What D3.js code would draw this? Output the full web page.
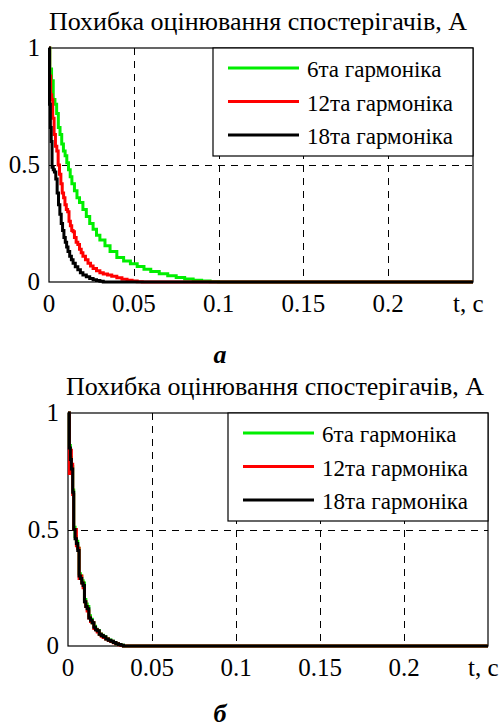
<!DOCTYPE html>
<head><meta charset="utf-8"></head>
<body style="margin:0">
<script src="https://cdn.jsdelivr.net/npm/d3@7"></script>
<script>

var width = 502, height = 727;
var serif = "'Liberation Serif'";

var titleText = "Похибка оцінювання спостерігачів, А";
var seriesNames = ["6та гармоніка", "12та гармоніка", "18та гармоніка"];
var seriesColors = ["#00ee00", "#ff0000", "#000000"];
var xTicks = [0, 0.05, 0.1, 0.15, 0.2];
var xTickLabels = ["0", "0.05", "0.1", "0.15", "0.2"];
var yTicks = [0, 0.5, 1];
var yTickLabels = ["0", "0.5", "1"];
var xUnit = "t, c";

// panel a : [t, value]
var greenA = [[0,1],[0.0005,0.91],[0.0015,0.86],[0.0025,0.78],[0.0035,0.76],[0.0045,0.72],[0.0055,0.66],
  [0.0065,0.63],[0.0075,0.59],[0.0085,0.56],[0.0095,0.54],[0.0105,0.51],[0.0115,0.48],[0.0125,0.45],
  [0.0135,0.42],[0.015,0.39],[0.0165,0.36],[0.018,0.34],[0.02,0.31],[0.022,0.28],[0.024,0.25],
  [0.026,0.225],[0.028,0.2],[0.03,0.18],[0.033,0.155],[0.036,0.13],[0.04,0.105],[0.044,0.09],
  [0.048,0.078],[0.052,0.066],[0.056,0.055],[0.06,0.045],[0.065,0.035],[0.07,0.027],[0.075,0.019],
  [0.08,0.013],[0.085,0.008],[0.09,0.004],[0.095,0.001],[0.1,0],[0.25,0]];
var redA = [[0,1],[0.0004,0.88],[0.001,0.8],[0.0016,0.78],[0.0022,0.7],[0.003,0.63],[0.0038,0.58],
  [0.0046,0.56],[0.0054,0.5],[0.0062,0.46],[0.007,0.42],[0.0078,0.38],[0.0086,0.36],[0.0094,0.33],
  [0.0102,0.31],[0.011,0.3],[0.0118,0.26],[0.0126,0.24],[0.0134,0.22],[0.0142,0.215],[0.015,0.19],
  [0.016,0.17],[0.017,0.16],[0.018,0.14],[0.019,0.125],[0.02,0.11],[0.0215,0.095],[0.023,0.08],
  [0.0245,0.068],[0.026,0.058],[0.028,0.048],[0.03,0.04],[0.032,0.034],[0.0345,0.03],[0.037,0.025],
  [0.04,0.018],[0.043,0.012],[0.046,0.007],[0.049,0.004],[0.052,0.001],[0.055,0],[0.25,0]];
var blackA = [[0,1],[0.0003,0.76],[0.0008,0.66],[0.0013,0.6],[0.0018,0.49],[0.0025,0.48],[0.0032,0.47],
  [0.004,0.44],[0.0048,0.38],[0.0056,0.33],[0.0064,0.29],[0.0072,0.25],[0.008,0.22],[0.0088,0.19],
  [0.0096,0.17],[0.0104,0.15],[0.0112,0.13],[0.0122,0.11],[0.0132,0.095],[0.0142,0.08],[0.0155,0.065],
  [0.017,0.052],[0.0185,0.04],[0.02,0.03],[0.022,0.022],[0.024,0.015],[0.026,0.01],[0.028,0.006],
  [0.03,0.003],[0.032,0],[0.25,0]];

// panel б
var greenB = [[0,1],[0.0008,0.86],[0.0014,0.81],[0.002,0.77],[0.0028,0.67],[0.0034,0.51],[0.0042,0.47],
  [0.005,0.45],[0.0058,0.42],[0.0066,0.31],[0.0074,0.3],[0.0082,0.28],[0.009,0.27],[0.0098,0.2],
  [0.0106,0.18],[0.0114,0.17],[0.0124,0.13],[0.0134,0.115],[0.0144,0.1],[0.0154,0.085],[0.0164,0.072],
  [0.0174,0.066],[0.0186,0.052],[0.0198,0.046],[0.021,0.04],[0.0225,0.031],[0.024,0.026],[0.0255,0.02],
  [0.027,0.015],[0.0285,0.01],[0.03,0.006],[0.0315,0.003],[0.033,0],[0.25,0]];
var redB = [[0,1],[0.0008,0.74],[0.0014,0.84],[0.002,0.78],[0.0028,0.65],[0.0034,0.5],[0.0042,0.5],
  [0.005,0.43],[0.0058,0.42],[0.0066,0.29],[0.0074,0.3],[0.0082,0.27],[0.009,0.25],[0.0098,0.19],
  [0.0106,0.17],[0.0114,0.15],[0.0124,0.12],[0.0134,0.105],[0.0144,0.1],[0.0154,0.075],[0.0164,0.07],
  [0.0174,0.06],[0.0186,0.05],[0.0198,0.042],[0.021,0.036],[0.0225,0.03],[0.024,0.024],[0.0255,0.019],
  [0.027,0.014],[0.0285,0.01],[0.03,0.005],[0.0315,0.002],[0.033,0],[0.25,0]];
var blackB = [[0,1],[0.0008,0.85],[0.0014,0.8],[0.002,0.76],[0.0028,0.66],[0.0034,0.5],[0.0042,0.46],
  [0.005,0.44],[0.0058,0.41],[0.0066,0.3],[0.0074,0.29],[0.0082,0.27],[0.009,0.26],[0.0098,0.19],
  [0.0106,0.17],[0.0114,0.16],[0.0124,0.12],[0.0134,0.11],[0.0144,0.1],[0.0154,0.08],[0.0164,0.07],
  [0.0174,0.065],[0.0186,0.05],[0.0198,0.045],[0.021,0.04],[0.0225,0.03],[0.024,0.025],[0.0255,0.02],
  [0.027,0.015],[0.0285,0.01],[0.03,0.006],[0.0315,0.003],[0.033,0],[0.25,0]];

var svg = d3.select("body").append("svg")
  .attr("width", width)
  .attr("height", height)
  .attr("font-family", "Liberation Serif");

// text straight onto the svg root
function addText(size, x, y, str) {
  return svg.append("text")
    .attr("x", x)
    .attr("y", y)
    .attr("font-family", "Liberation Serif")
    .style("font-family", serif)
    .style("font-size", size + "px")
    .text(str);
}

function panel(cfg, series, letter) {
  var x = d3.scaleLinear().domain([0, 0.25]).range([cfg.left, cfg.right]);
  var y = d3.scaleLinear().domain([0, 1]).range([cfg.bottom, cfg.top]);

  // grid
  xTicks.slice(1).forEach(function(t) {
    svg.append("line")
      .attr("x1", Math.round(x(t)) + 0.5).attr("x2", Math.round(x(t)) + 0.5)
      .attr("y1", cfg.top).attr("y2", cfg.bottom)
      .style("stroke", "#000").style("stroke-dasharray", "7,6");
  });
  svg.append("line")
    .attr("x1", cfg.left).attr("x2", cfg.right)
    .attr("y1", Math.round(y(0.5)) + 0.5).attr("y2", Math.round(y(0.5)) + 0.5)
    .style("stroke", "#000").style("stroke-dasharray", "7,6");

  // frame
  svg.append("rect")
    .attr("x", cfg.left).attr("y", cfg.top)
    .attr("width", cfg.right - cfg.left).attr("height", cfg.bottom - cfg.top)
    .style("fill", "none").style("stroke", "#000").style("stroke-width", 1.2);

  // curves
  var line = d3.line()
    .x(d => x(d[0]))
    .y(d => y(d[1]))
    .curve(d3.curveStepAfter);
  series.forEach(function(s, i) {
    svg.append("path")
      .attr("d", line(s))
      .style("fill", "none")
      .style("stroke", seriesColors[i])
      .style("stroke-width", 3);
  });

  // legend
  var lw = 260, lh = 108;
  var lx = cfg.right - lw, ly = cfg.top;
  svg.append("rect")
    .attr("x", lx).attr("y", ly)
    .attr("width", lw).attr("height", lh)
    .style("fill", "#fff").style("stroke", "#000").style("stroke-width", 1.2);
  seriesNames.forEach(function(name, i) {
    var yy = ly + 20 + i * 33.5;
    svg.append("line")
      .attr("x1", lx + 15).attr("x2", lx + 86)
      .attr("y1", yy).attr("y2", yy)
      .style("stroke", seriesColors[i])
      .style("stroke-width", 3);
    addText(23, lx + 94, yy + 9, name);
  });

  // title
  addText(26, (cfg.left + cfg.right) / 2 - 3, cfg.top - 18, titleText)
    .attr("text-anchor", "middle");

  // tick labels
  xTicks.forEach(function(t, i) {
    addText(25, x(t), cfg.bottom + 30, xTickLabels[i])
      .attr("text-anchor", "middle");
  });
  addText(25, x(0.25) - 20, cfg.bottom + 30, xUnit);
  yTicks.forEach(function(t, i) {
    addText(25, cfg.left - 9, y(t) + 8, yTickLabels[i])
      .attr("text-anchor", "end");
  });

  addText(26, 220, cfg.letterY, letter)
    .attr("text-anchor", "middle")
    .style("font-weight", "bold")
    .style("font-style", "italic");
}

panel({left: 49, right: 473, top: 48, bottom: 282, letterY: 363}, [greenA, redA, blackA], "а");
panel({left: 68, right: 488, top: 413, bottom: 646, letterY: 722}, [greenB, redB, blackB], "б");

</script>
</body>
